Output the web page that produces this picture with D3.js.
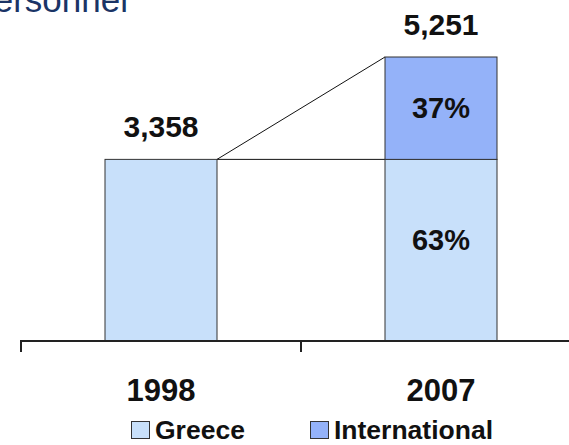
<!DOCTYPE html>
<html>
<head>
<meta charset="utf-8">
<script src="https://cdn.jsdelivr.net/npm/d3@7"></script>
<style>
  body { margin: 0; background: #fff; overflow: hidden; }
  text { font-family: "Liberation Sans", Arial, sans-serif; }
</style>
</head>
<body>
<svg id="chart" width="569" height="445"></svg>
<script>
// data
const years = ["1998", "2007"];
const greece = [3358, 3358];
const international = [0, 1893];
const totalLabels = ["3,358", "5,251"];
const shareLabels = ["63%", "37%"]; // 2007 only
const seriesNames = ["Greece", "International"];
const colors = ["#c8e0fa", "#94b2f9"];

const svg = d3.select("#chart");

// title (cut off at the top-left, as in the slide)
svg.append("text")
   .attr("x", 128).attr("y", 12)
   .attr("text-anchor", "end")
   .attr("font-size", 35)
   .attr("fill", "#1a3466")
   .text("Personnel");

// scales
const x = d3.scaleBand()
            .domain(years)
            .range([21, 581])
            .paddingInner(0.6)
            .paddingOuter(0.3);

const totals = years.map((d, i) => greece[i] + international[i]);
const y = d3.scaleLinear()
            .domain([0, d3.max(totals)])
            .range([341, 57]);

// stacked data
const stacked = d3.stack().keys([0, 1])(years.map((d, i) => [greece[i], international[i]]));

// connector lines from 1998 top to 2007 bar
const x0 = x(years[0]) + x.bandwidth();
const x1 = x(years[1]);
svg.append("line")
   .attr("x1", x0).attr("y1", y(totals[0]))
   .attr("x2", x1).attr("y2", y(totals[1]))
   .attr("stroke", "#111").attr("stroke-width", 1);
svg.append("line")
   .attr("x1", x0).attr("y1", y(totals[0]))
   .attr("x2", x1).attr("y2", y(greece[1]))
   .attr("stroke", "#111").attr("stroke-width", 1);

// bars
stacked.forEach((layer, k) => {
    svg.append("g").selectAll("rect")
       .data(layer.map((d, i) => ({ year: years[i], y0: d[0], y1: d[1] })).filter(d => d.y1 > d.y0))
       .enter().append("rect")
       .attr("x", d => x(d.year))
       .attr("y", d => y(d.y1))
       .attr("width", x.bandwidth())
       .attr("height", d => y(d.y0) - y(d.y1))
       .attr("fill", colors[k])
       .attr("stroke", "#333")
       .attr("stroke-width", 1);
});

// total labels above bars
svg.append("g").selectAll("text")
   .data(years)
   .enter().append("text")
   .attr("x", d => x(d) + x.bandwidth() / 2)
   .attr("y", (d, i) => y(totals[i]) - 22)
   .attr("text-anchor", "middle")
   .attr("font-size", 30)
   .attr("font-weight", "bold")
   .attr("fill", "#111")
   .text((d, i) => totalLabels[i]);

// share labels inside 2007 bar
const cx = x(years[1]) + x.bandwidth() / 2;
svg.append("text")
   .attr("x", cx)
   .attr("y", y(greece[1] / 2))
   .attr("text-anchor", "middle")
   .attr("font-size", 29)
   .attr("font-weight", "bold")
   .attr("fill", "#111")
   .text(shareLabels[0]);
svg.append("text")
   .attr("x", cx)
   .attr("y", y(greece[1] + international[1] / 2))
   .attr("dy", "0.35em")
   .attr("text-anchor", "middle")
   .attr("font-size", 29)
   .attr("font-weight", "bold")
   .attr("fill", "#111")
   .text(shareLabels[1]);

// x axis: line with ticks at the category boundaries
const [r0, r1] = x.range();
const axis = svg.append("g").attr("stroke", "#222").attr("stroke-width", 2);
axis.append("line")
    .attr("x1", r0).attr("x2", 569)
    .attr("y1", y(0)).attr("y2", y(0));
d3.range(years.length + 1).forEach(i => {
    const tx = r0 + i * x.step();
    axis.append("line")
        .attr("x1", tx).attr("x2", tx)
        .attr("y1", y(0) - 1).attr("y2", y(0) + 11);
});

svg.append("g").selectAll("text")
   .data(years)
   .enter().append("text")
   .attr("x", d => x(d) + x.bandwidth() / 2)
   .attr("y", 401)
   .attr("text-anchor", "middle")
   .attr("font-size", 31)
   .attr("font-weight", "bold")
   .attr("fill", "#111")
   .text(d => d);

// legend
const legendX = [131, 310];
const legend = svg.append("g").selectAll("g")
   .data(seriesNames)
   .enter().append("g")
   .attr("transform", (d, i) => `translate(${legendX[i]},421)`);
legend.append("rect")
      .attr("x", 0.5).attr("y", 0.5)
      .attr("width", 18).attr("height", 17)
      .attr("fill", (d, i) => colors[i])
      .attr("stroke", "#333").attr("stroke-width", 1);
legend.append("text")
      .attr("x", 24).attr("y", 18)
      .attr("font-size", 26.5)
      .attr("font-weight", "bold")
      .attr("fill", "#111")
      .text(d => d);
</script>
</body>
</html>
